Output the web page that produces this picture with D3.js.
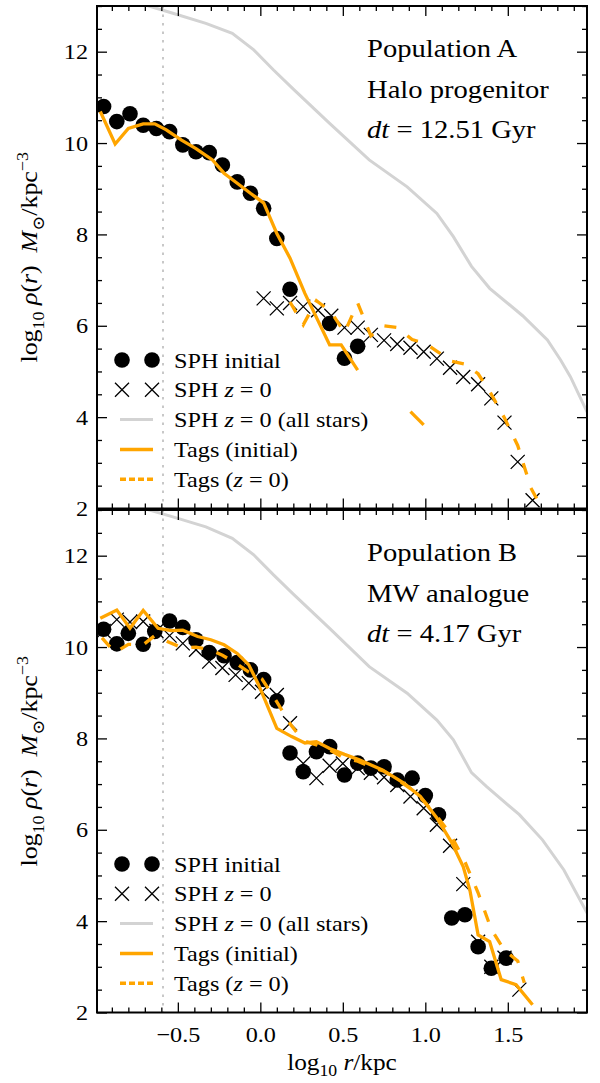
<!DOCTYPE html>
<html>
<head>
<meta charset="utf-8">
<script src="https://cdn.jsdelivr.net/npm/d3@7"></script>
<style>
  body { margin: 0; background: #fff; }
  svg text { font-family: "Liberation Serif", "DejaVu Serif", serif; fill: #000; white-space: pre; }
</style>
</head>
<body>
<svg id="chart" width="600" height="1083"></svg>
<script>
'use strict';

// axis setup
var xDomain = [-0.99, 1.98];
var yDomain = [2, 13];
var xMajor = [-0.5, 0.0, 0.5, 1.0, 1.5];
var yMajor = [2, 4, 6, 8, 10, 12];
var softening = -0.59;

// Population A (halo progenitor), [log r, log rho]
var sphInitialA = [[-0.95,10.80],[-0.87,10.47],[-0.79,10.64],[-0.71,10.39],[-0.63,10.32],[-0.55,10.25],
  [-0.47,9.96],[-0.39,9.81],[-0.31,9.79],[-0.23,9.52],[-0.14,9.15],[-0.06,8.90],[0.02,8.57],[0.10,7.91],
  [0.18,6.80],[0.42,6.05],[0.51,5.29],[0.59,5.55]];
var sphZ0A = [[0.02,6.60],[0.10,6.38],[0.18,6.50],[0.26,6.42],[0.35,6.34],[0.43,6.22],[0.51,5.96],
  [0.59,5.96],[0.67,5.80],[0.75,5.68],[0.83,5.60],[0.91,5.52],[0.99,5.43],[1.07,5.28],[1.15,5.08],
  [1.23,4.88],[1.32,4.72],[1.40,4.41],[1.48,3.88],[1.56,3.02],[1.65,2.18]];
var sphAllA = [[-0.75,13.08],[-0.53,12.84],[-0.33,12.62],[-0.17,12.40],[-0.04,12.04],[0.08,11.60],
  [0.20,11.18],[0.42,10.43],[0.66,9.63],[0.89,9.04],[1.07,8.46],[1.17,7.95],[1.28,7.30],[1.39,6.82],
  [1.59,6.22],[1.74,5.69],[1.82,5.25],[1.88,4.88],[1.97,4.19],[2.00,3.98]];
var tagsInitialA = [[-0.97,10.69],[-0.88,9.98],[-0.80,10.32],[-0.71,10.42],[-0.64,10.42],[-0.57,10.29],
  [-0.48,10.07],[-0.39,9.88],[-0.29,9.63],[-0.22,9.34],[-0.14,9.12],[-0.06,8.90],[0.02,8.69],[0.10,8.02],
  [0.18,7.48],[0.27,6.71],[0.42,5.58],[0.49,5.58],[0.59,5.03], null, [0.91,4.12],[0.99,3.83]];
var tagsZ0A = [[0.18,6.52],[0.26,6.02],[0.34,6.55],[0.43,6.30],[0.51,5.85],[0.59,6.50],[0.67,5.78],
  [0.75,6.00],[0.83,5.96],[0.92,5.70],[1.00,5.61],[1.08,5.42],[1.16,5.22],[1.24,5.16],[1.32,4.95],
  [1.40,4.50],[1.48,3.98],[1.56,3.38],[1.64,2.45],[1.68,2.18],[1.73,2.15]];

// Population B (MW analogue)
var sphInitialB = [[-0.95,10.39],[-0.87,10.07],[-0.80,10.30],[-0.71,10.06],[-0.64,10.34],[-0.55,10.57],
  [-0.47,10.43],[-0.39,10.16],[-0.31,9.88],[-0.22,9.81],[-0.14,9.66],[-0.06,9.50],[0.02,9.29],[0.10,8.82],
  [0.18,7.68],[0.26,7.27],[0.34,7.71],[0.42,7.82],[0.51,7.20],[0.59,7.46],[0.67,7.35],[0.75,7.38],
  [0.83,7.09],[0.92,7.13],[1.00,6.75],[1.08,6.33],[1.16,4.07],[1.24,4.14],[1.32,3.44],[1.40,2.97],[1.49,3.19]];
var sphZ0B = [[-0.95,10.35],[-0.87,10.60],[-0.79,10.55],[-0.71,10.56],[-0.63,10.35],[-0.55,10.25],
  [-0.47,10.08],[-0.39,9.94],[-0.31,9.68],[-0.23,9.54],[-0.15,9.39],[-0.07,9.21],[0.01,9.02],[0.10,8.95],
  [0.18,8.33],[0.26,7.45],[0.34,7.13],[0.42,7.40],[0.50,7.45],[0.59,7.35],[0.67,7.25],[0.75,7.15],
  [0.83,6.98],[0.91,6.73],[0.99,6.47],[1.07,6.11],[1.15,5.65],[1.23,4.81],[1.32,3.55],[1.40,3.00],
  [1.48,3.20],[1.57,2.50]];
var sphAllB = [[-0.75,13.08],[-0.53,12.85],[-0.33,12.63],[-0.17,12.38],[-0.04,12.02],[0.08,11.58],
  [0.20,11.16],[0.42,10.41],[0.66,9.57],[0.89,8.99],[1.07,8.40],[1.17,7.97],[1.28,7.25],[1.37,6.95],
  [1.57,6.33],[1.71,5.78],[1.84,5.12],[1.97,4.25],[2.00,4.05]];
var tagsInitialB = [[-0.97,10.63],[-0.87,10.81],[-0.79,10.41],[-0.71,10.80],[-0.62,10.41],[-0.54,10.36],
  [-0.47,10.37],[-0.38,10.23],[-0.30,10.16],[-0.22,10.05],[-0.14,9.86],[-0.07,9.61],[-0.01,9.17],
  [0.10,8.22],[0.19,8.04],[0.27,7.90],[0.34,7.93],[0.42,7.78],[0.51,7.65],[0.60,7.53],[0.74,7.31],
  [0.87,7.02],[0.97,6.73],[1.07,6.26],[1.16,5.72],[1.23,5.19],[1.27,4.68],[1.32,3.70],[1.39,3.55],
  [1.46,2.72],[1.55,2.61],[1.65,2.17]];
var tagsZ0B = [[-0.96,10.20],[-0.88,9.88],[-0.80,10.06],[-0.71,10.05],[-0.64,10.25],[-0.55,10.10],
  [-0.47,9.98],[-0.39,10.00],[-0.31,9.95],[-0.23,9.82],[-0.15,9.65],[-0.07,9.45],[0.01,9.30],[0.10,8.80],
  [0.18,8.32],[0.26,7.95],[0.34,7.86],[0.42,7.75],[0.51,7.56],[0.59,7.50],[0.67,7.38],[0.75,7.28],
  [0.83,7.10],[0.91,6.90],[0.99,6.63],[1.07,6.30],[1.15,5.92],[1.24,5.30],[1.32,4.62],[1.40,3.82],
  [1.48,3.36],[1.56,3.13],[1.60,2.65]];

var panelTitles = ["Population A", "Population B"];
var panelHosts = ["Halo progenitor", "MW analogue"];
var panelDt = ["12.51", "4.17"];

var legendLabels = [
  [{t: "SPH initial"}],
  [{t: "SPH "}, {t: "z", i: 1}, {t: " = 0"}],
  [{t: "SPH "}, {t: "z", i: 1}, {t: " = 0 (all stars)"}],
  [{t: "Tags (initial)"}],
  [{t: "Tags ("}, {t: "z", i: 1}, {t: " = 0)"}]
];

var orange = "#ffa500", grey = "#d3d3d3";
var sx = 1.1; // serif stand-in is narrower than the original face

var svg = d3.select("#chart");
var x = d3.scaleLinear().domain(xDomain).range([97, 587]);
var panels = [
  {top: 6, bottom: 508.5, data: [sphInitialA, sphZ0A, sphAllA, tagsInitialA, tagsZ0A]},
  {top: 510, bottom: 1012.5, data: [sphInitialB, sphZ0B, sphAllB, tagsInitialB, tagsZ0B]}
];

var yMinor = d3.range(2, 13.01, 0.5).filter(function(v) { return v % 2 !== 0; });
var xMinor = d3.range(-9, 20).map(function(v) { return v / 10; })
  .filter(function(v) { return Math.abs(v * 2 - Math.round(v * 2)) > 1e-6; });

// text with italic / sub / sup pieces
function rich(sel, parts, size) {
  var shift = 0;
  parts.forEach(function(p) {
    var target = p.s === "sub" ? size * 0.28 : p.s === "sup" ? -size * 0.4 : 0;
    sel.append("tspan")
      .attr("dy", target - shift)
      .style("font-size", (p.s ? size * 0.7 : size) + "px")
      .style("font-style", p.i ? "italic" : "normal")
      .text(p.t);
    shift = target;
  });
}

function textAt(parent, px, py, extra) {
  return parent.append("text")
    .attr("transform", "translate(" + px + "," + py + ")" + (extra || "") + " scale(" + sx + ",1)");
}

var crossPath = "M-7,-7L7,7M-7,7L7,-7";

panels.forEach(function(panel, k) {
  var y = d3.scaleLinear().domain(yDomain).range([panel.bottom, panel.top]);
  var line = d3.line()
    .defined(function(d) { return d != null; })
    .x(function(d) { return x(d[0]); })
    .y(function(d) { return y(d[1]); });

  var g = svg.append("g");
  var clipId = "clip" + k;
  g.append("clipPath").attr("id", clipId)
    .append("rect")
    .attr("x", x.range()[0]).attr("y", panel.top)
    .attr("width", x.range()[1] - x.range()[0])
    .attr("height", panel.bottom - panel.top);

  var plot = g.append("g").attr("clip-path", "url(#" + clipId + ")");

  plot.append("line")
    .attr("x1", x(softening)).attr("x2", x(softening))
    .attr("y1", panel.top).attr("y2", panel.bottom)
    .attr("stroke", "#c8c8c8").attr("stroke-width", 2)
    .attr("stroke-dasharray", "2.5,6");

  plot.append("g").selectAll("circle")
    .data(panel.data[0])
    .enter().append("circle")
    .attr("cx", function(d) { return x(d[0]); })
    .attr("cy", function(d) { return y(d[1]); })
    .attr("r", 7.8)
    .attr("fill", "#000");

  plot.append("g").selectAll("path")
    .data(panel.data[1])
    .enter().append("path")
    .attr("transform", function(d) { return "translate(" + x(d[0]) + "," + y(d[1]) + ")"; })
    .attr("d", crossPath)
    .attr("stroke", "#000").attr("stroke-width", 1.3).attr("fill", "none");

  plot.append("path").datum(panel.data[2])
    .attr("d", line).attr("fill", "none")
    .attr("stroke", grey).attr("stroke-width", 3);

  plot.append("path").datum(panel.data[3])
    .attr("d", line).attr("fill", "none")
    .attr("stroke", orange).attr("stroke-width", 3.3);

  plot.append("path").datum(panel.data[4])
    .attr("d", line).attr("fill", "none")
    .attr("stroke", orange).attr("stroke-width", 3.3)
    .attr("stroke-dasharray", "12,14");

  // ticks on all four sides, pointing in
  function styleAxis(a) {
    a.select(".domain").remove();
    a.attr("font-family", null).attr("font-size", 22);
    a.selectAll("line").attr("stroke-width", 1.3);
    a.selectAll("text").each(function() {
      var t = d3.select(this);
      var tx = +t.attr("x") || 0, ty = +t.attr("y") || 0;
      t.attr("x", 0).attr("y", 0)
        .attr("transform", "translate(" + tx + "," + ty + ") scale(" + sx + ",1)");
    });
  }
  var x0 = x.range()[0], x1 = x.range()[1];

  g.append("g").attr("transform", "translate(" + x0 + ",0)")
    .call(d3.axisLeft(y).tickValues(yMajor).tickSize(-10).tickPadding(9).tickFormat(d3.format("d")))
    .call(styleAxis);
  g.append("g").attr("transform", "translate(" + x0 + ",0)")
    .call(d3.axisLeft(y).tickValues(yMinor).tickSize(-5).tickFormat(""))
    .call(styleAxis);
  g.append("g").attr("transform", "translate(" + x1 + ",0)")
    .call(d3.axisRight(y).tickValues(yMajor).tickSize(-10).tickFormat(""))
    .call(styleAxis);
  g.append("g").attr("transform", "translate(" + x1 + ",0)")
    .call(d3.axisRight(y).tickValues(yMinor).tickSize(-5).tickFormat(""))
    .call(styleAxis);
  g.append("g").attr("transform", "translate(0," + panel.top + ")")
    .call(d3.axisTop(x).tickValues(xMajor).tickSize(-10).tickFormat(""))
    .call(styleAxis);
  g.append("g").attr("transform", "translate(0," + panel.top + ")")
    .call(d3.axisTop(x).tickValues(xMinor).tickSize(-5).tickFormat(""))
    .call(styleAxis);
  g.append("g").attr("transform", "translate(0," + panel.bottom + ")")
    .call(d3.axisBottom(x).tickValues(xMajor).tickSize(-10).tickPadding(14)
      .tickFormat(k === 1 ? d3.format(".1f") : ""))
    .call(styleAxis);
  g.append("g").attr("transform", "translate(0," + panel.bottom + ")")
    .call(d3.axisBottom(x).tickValues(xMinor).tickSize(-5).tickFormat(""))
    .call(styleAxis);

  g.append("rect")
    .attr("x", x0).attr("y", panel.top)
    .attr("width", x1 - x0).attr("height", panel.bottom - panel.top)
    .attr("fill", "none").attr("stroke", "#000").attr("stroke-width", 2);

  // y label
  var ylab = textAt(g, 37, (panel.top + panel.bottom) / 2, " rotate(-90)")
    .attr("text-anchor", "middle");
  rich(ylab, [{t: "log"}, {t: "10", s: "sub"}, {t: " "}, {t: "ρ", i: 1}, {t: "("}, {t: "r", i: 1},
    {t: ")  "}, {t: "M", i: 1}, {t: "⊙", s: "sub"}, {t: "/kpc"}, {t: "−3", s: "sup"}], 23.5);

  // annotation
  textAt(g, 367, panel.top + 50.7).style("font-size", "26px").text(panelTitles[k]);
  textAt(g, 367, panel.top + 91.5).style("font-size", "26px").text(panelHosts[k]);
  rich(textAt(g, 367, panel.top + 131.5),
    [{t: "dt", i: 1}, {t: " = " + panelDt[k] + " Gyr"}], 26);

  // legend
  var leg = g.append("g").attr("transform", "translate(0," + (panel.top + 354) + ")");
  legendLabels.forEach(function(lab, i) {
    var row = leg.append("g").attr("transform", "translate(0," + (i * 29.8) + ")");
    if (i === 0) {
      row.selectAll("circle").data([122, 152]).enter().append("circle")
        .attr("cx", function(d) { return d; }).attr("cy", 0).attr("r", 7.8).attr("fill", "#000");
    } else if (i === 1) {
      row.selectAll("path").data([122, 152]).enter().append("path")
        .attr("transform", function(d) { return "translate(" + d + ",0)"; })
        .attr("d", crossPath).attr("stroke", "#000").attr("stroke-width", 1.3);
    } else {
      row.append("line").attr("x1", 120).attr("x2", 153)
        .attr("stroke", i === 2 ? grey : orange)
        .attr("stroke-width", i === 2 ? 3 : 3.5)
        .attr("stroke-dasharray", i === 4 ? "6,3" : null);
    }
    rich(textAt(row, 174, 7.5), lab, 22);
  });
});

// x label
var xlab = textAt(svg, (x.range()[0] + x.range()[1]) / 2, 1070).attr("text-anchor", "middle");
rich(xlab, [{t: "log"}, {t: "10", s: "sub"}, {t: " "}, {t: "r", i: 1}, {t: "/kpc"}], 23);
</script>
</body>
</html>
